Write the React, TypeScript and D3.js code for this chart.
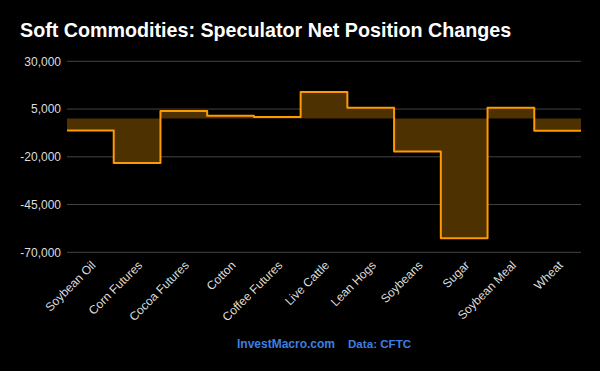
import React from 'react';
import * as d3 from 'd3';

// Speculator net position changes by contract
const categories = [
  'Soybean Oil', 'Corn Futures', 'Cocoa Futures', 'Cotton', 'Coffee Futures',
  'Live Cattle', 'Lean Hogs', 'Soybeans', 'Sugar', 'Soybean Meal', 'Wheat',
];
const netChanges = [-6200, -23300, 4000, 1500, 800, 13900, 5700, -17200, -62700, 5700, -6300];
const yTicks = [30000, 5000, -20000, -45000, -70000];

const WIDTH = 600;
const HEIGHT = 371;
const margin = { top: 61.3, right: 19, bottom: 118.7, left: 67 };

const App = () => {
  const x = d3.scaleBand<string>()
    .domain(categories)
    .range([margin.left, WIDTH - margin.right])
    .padding(0);

  const y = d3.scaleLinear()
    .domain([-70000, 30000])
    .range([HEIGHT - margin.bottom, margin.top]);

  // step points: start of each band, plus the end of the last band
  const pts: [number, number][] = categories.map((c, i) => [x(c)!, netChanges[i]]);
  pts.push([x(categories[categories.length - 1])! + x.bandwidth(), netChanges[netChanges.length - 1]]);

  const line = d3.line<[number, number]>()
    .x(d => d[0])
    .y(d => y(d[1]))
    .curve(d3.curveStepAfter);

  const area = d3.area<[number, number]>()
    .x(d => d[0])
    .y0(y(0))
    .y1(d => y(d[1]))
    .curve(d3.curveStepAfter);

  // plain hyphen for negatives, like the original
  const fmt = d3.formatLocale({ decimal: '.', thousands: ',', grouping: [3], currency: ['$', ''], minus: '-' }).format(',');

  return (
    <svg
      width={WIDTH}
      height={HEIGHT}
      style={{ position: 'absolute', left: 0, top: 0, background: '#000' }}
      fontFamily="'Liberation Sans', Arial, sans-serif"
    >
      <rect width={WIDTH} height={HEIGHT} fill="#000" />
      <text x={20} y={37} fill="#fff" fontSize={19.7} fontWeight="bold">
        Soft Commodities: Speculator Net Position Changes
      </text>

      {/* grid + y labels */}
      {yTicks.map(t => (
        <g key={t}>
          <line
            x1={margin.left} x2={WIDTH - margin.right}
            y1={y(t)} y2={y(t)}
            stroke="#444" strokeWidth={1}
          />
          <text
            x={61} y={y(t)} dy="0.35em"
            textAnchor="end" fill="#ddd" fontSize={12}
          >
            {fmt(t)}
          </text>
        </g>
      ))}

      <path d={area(pts) || ''} fill="#4d3100" />
      <path
        d={line(pts) || ''}
        fill="none"
        stroke="#ff9900"
        strokeWidth={2}
        strokeLinejoin="round"
      />

      {/* x labels */}
      {categories.map(c => {
        const cx = x(c)! + x.bandwidth() / 2 + 6;
        return (
          <text
            key={c}
            transform={`translate(${cx},266) rotate(-45)`}
            textAnchor="end"
            fill="#ddd"
            fontSize={12}
          >
            {c}
          </text>
        );
      })}

      <text x={237} y={348} fill="#3d7fe0" fontSize={12} fontWeight="bold">
        InvestMacro.com
      </text>
      <text x={348} y={348} fill="#3d7fe0" fontSize={11.6} fontWeight="bold">
        Data: CFTC
      </text>
    </svg>
  );
};

export default App;
